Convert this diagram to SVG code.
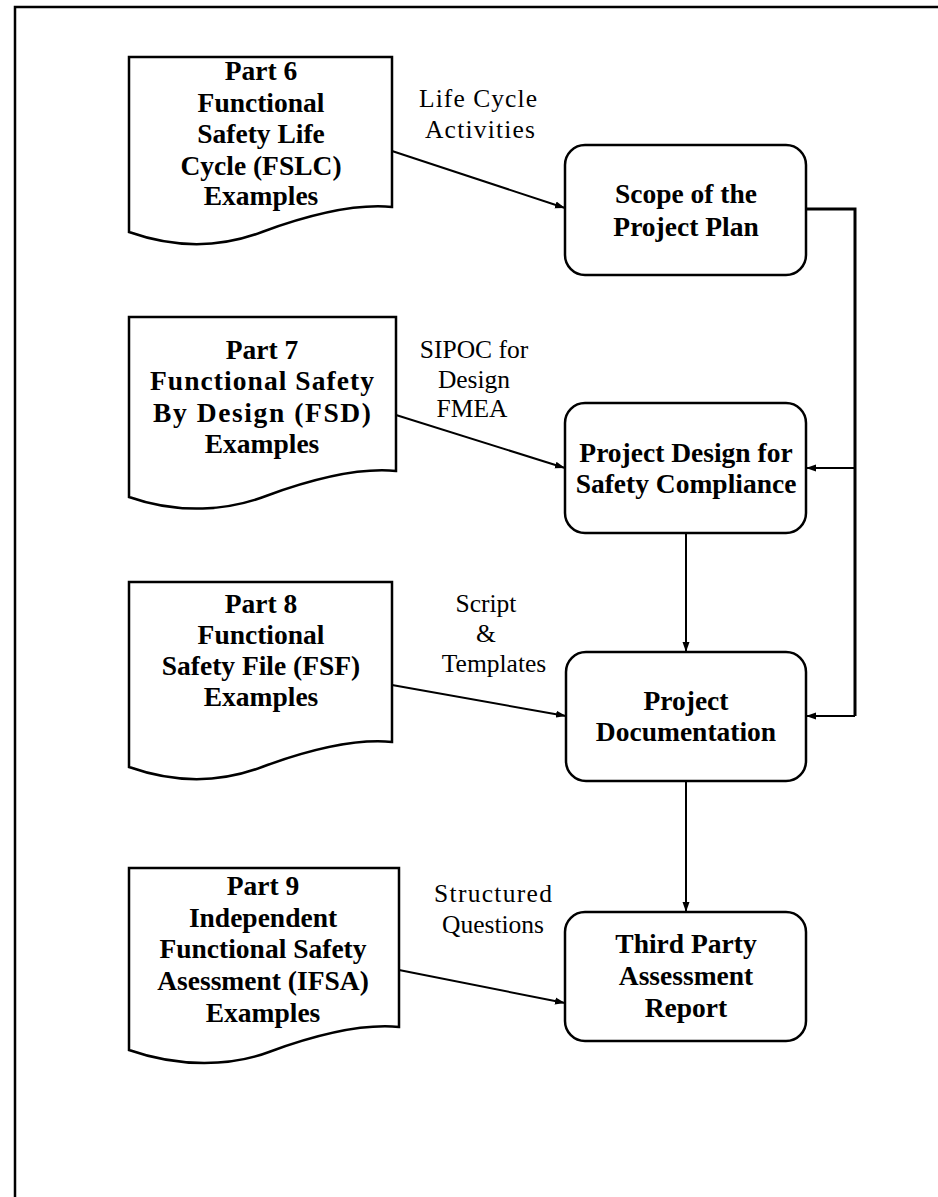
<svg xmlns="http://www.w3.org/2000/svg" width="938" height="1197" viewBox="0 0 938 1197">
<style>
.shape{fill:#fff;stroke:#000;stroke-width:2.5}
.bt{font-family:"Liberation Serif","Times New Roman",serif;font-weight:bold;font-size:27.5px;text-anchor:middle;fill:#000}
.lt{font-family:"Liberation Serif","Times New Roman",serif;font-size:25.5px;text-anchor:middle;fill:#000}
.conn{stroke:#000;stroke-width:2;fill:none}
.bus{stroke:#000;stroke-width:3;fill:none}
</style>
<defs>
<marker id="arr" markerUnits="userSpaceOnUse" markerWidth="10" markerHeight="8" refX="10" refY="4" orient="auto">
<path d="M0,0.5 L10,4 L0,7.5 z" fill="#000"/>
</marker>
</defs>
<rect width="938" height="1197" fill="#fff"/>
<path d="M15,1197 V7 H938" fill="none" stroke="#000" stroke-width="2.5"/>

<g id="connectors">
<path class="conn" d="M392,151 L565,208" marker-end="url(#arr)"/>
<path class="bus" d="M806,209 H855 V716"/>
<path class="conn" d="M855,468 H806" marker-end="url(#arr)"/>
<path class="conn" d="M855,716 H806" marker-end="url(#arr)"/>
<path class="conn" d="M396,415 L565,468" marker-end="url(#arr)"/>
<path class="conn" d="M686,533 V652" marker-end="url(#arr)"/>
<path class="conn" d="M392,685 L566,716" marker-end="url(#arr)"/>
<path class="conn" d="M686,781 V912" marker-end="url(#arr)"/>
<path class="conn" d="M399,970 L565,1003" marker-end="url(#arr)"/>
<text class="lt" x="478" y="107" textLength="118" lengthAdjust="spacing">Life Cycle</text>
<text class="lt" x="480" y="138" textLength="110" lengthAdjust="spacing">Activities</text>
<text class="lt" x="474" y="358">SIPOC for</text>
<text class="lt" x="474" y="388">Design</text>
<text class="lt" x="472" y="417">FMEA</text>
<text class="lt" x="486" y="612">Script</text>
<text class="lt" x="486" y="642">&amp;</text>
<text class="lt" x="494" y="672">Templates</text>
<text class="lt" x="493" y="902" textLength="118" lengthAdjust="spacing">Structured</text>
<text class="lt" x="493" y="933">Questions</text>
</g>

<g id="part6">
<path class="shape" d="M129,57 H392 V207 C350,203 300,218 262,232 C225,246 180,250 129,232 Z"/>
<text class="bt" x="261" y="80">Part 6</text>
<text class="bt" x="261" y="112">Functional</text>
<text class="bt" x="261" y="143">Safety Life</text>
<text class="bt" x="261" y="175">Cycle (FSLC)</text>
<text class="bt" x="261" y="205">Examples</text>
</g>

<g id="part7">
<path class="shape" d="M129,317 H396 V471 C354,467 304,482 266,496 C229,510 180,515 129,497 Z"/>
<text class="bt" x="262" y="359">Part 7</text>
<text class="bt" x="262" y="390" textLength="224" lengthAdjust="spacing">Functional Safety</text>
<text class="bt" x="262" y="422" textLength="218" lengthAdjust="spacing">By Design (FSD)</text>
<text class="bt" x="262" y="453">Examples</text>
</g>

<g id="part8">
<path class="shape" d="M129,582 H392 V742 C350,738 300,753 262,767 C225,781 180,785 129,767 Z"/>
<text class="bt" x="261" y="613">Part 8</text>
<text class="bt" x="261" y="644">Functional</text>
<text class="bt" x="261" y="675">Safety File (FSF)</text>
<text class="bt" x="261" y="706">Examples</text>
</g>

<g id="part9">
<path class="shape" d="M129,868 H399 V1027 C357,1023 307,1038 269,1052 C232,1066 180,1068 129,1050 Z"/>
<text class="bt" x="263" y="895">Part 9</text>
<text class="bt" x="263" y="927">Independent</text>
<text class="bt" x="263" y="958">Functional Safety</text>
<text class="bt" x="263" y="990">Asessment (IFSA)</text>
<text class="bt" x="263" y="1022">Examples</text>
</g>

<g id="scope">
<rect class="shape" x="565" y="145" width="241" height="130" rx="20"/>
<text class="bt" x="686" y="203">Scope of the</text>
<text class="bt" x="686" y="236">Project Plan</text>
</g>

<g id="design">
<rect class="shape" x="565" y="403" width="241" height="130" rx="20"/>
<text class="bt" x="686" y="462">Project Design for</text>
<text class="bt" x="686" y="493">Safety Compliance</text>
</g>

<g id="documentation">
<rect class="shape" x="566" y="652" width="240" height="129" rx="20"/>
<text class="bt" x="686" y="710">Project</text>
<text class="bt" x="686" y="741">Documentation</text>
</g>

<g id="thirdparty">
<rect class="shape" x="565" y="912" width="241" height="129" rx="20"/>
<text class="bt" x="686" y="953">Third Party</text>
<text class="bt" x="686" y="985">Assessment</text>
<text class="bt" x="686" y="1017">Report</text>
</g>
</svg>
